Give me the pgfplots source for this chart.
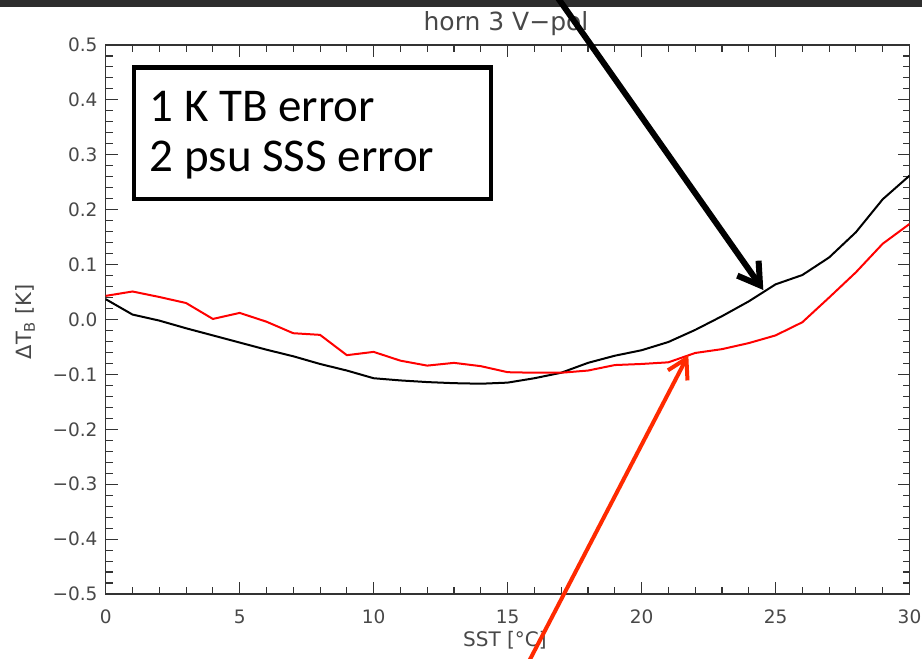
\documentclass[border=0pt]{standalone}
\usepackage{pgfplots}
\pgfplotsset{compat=1.18}
\usepackage{pgfplotstable}
\usepackage{fontspec}
\usetikzlibrary{arrows.meta}

\newfontfamily\idlfont{DejaVu Sans}
\newfontfamily\boxfont{Carlito}

\definecolor{axisgray}{HTML}{333333}
\definecolor{labelgray}{HTML}{484848}
\definecolor{bandgray}{HTML}{2E2E2E}
\definecolor{arrowred}{HTML}{FF2A00}

% Brightness-temperature difference versus sea surface temperature
\pgfplotstableread{
sst dtb
0  0.037
1  0.009
2  -0.002
3  -0.016
4  -0.029
5  -0.042
6  -0.055
7  -0.067
8  -0.081
9  -0.093
10 -0.107
11 -0.111
12 -0.114
13 -0.116
14 -0.117
15 -0.115
16 -0.107
17 -0.097
18 -0.079
19 -0.066
20 -0.056
21 -0.041
22 -0.019
23 0.006
24 0.033
25 0.064
26 0.081
27 0.113
28 0.159
29 0.219
30 0.262
}\blackcurve

\pgfplotstableread{
sst dtb
0  0.043
1  0.051
2  0.041
3  0.030
4  0.001
5  0.012
6  -0.004
7  -0.025
8  -0.028
9  -0.065
10 -0.059
11 -0.075
12 -0.084
13 -0.079
14 -0.085
15 -0.096
16 -0.097
17 -0.097
18 -0.093
19 -0.083
20 -0.081
21 -0.078
22 -0.061
23 -0.054
24 -0.043
25 -0.029
26 -0.005
27 0.040
28 0.086
29 0.138
30 0.174
}\redcurve

\newcommand\ticksize{\idlfont\fontsize{18.5bp}{20bp}\selectfont}

\begin{document}
\begin{tikzpicture}[x=1bp,y=1bp]
\useasboundingbox (0,0) rectangle (922,659);
\begin{scope}
\clip (0,0) rectangle (922,659);
\fill[white] (0,0) rectangle (922,659);
\fill[bandgray] (0,651.5) rectangle (922,659);

\begin{axis}[
  at={(105.7bp,65bp)}, anchor=south west,
  scale only axis, width=803.8bp, height=549bp,
  xmin=0, xmax=30, ymin=-0.5, ymax=0.5,
  xtick={0,5,10,15,20,25,30},
  xticklabels={0,5,10,15,20,25,30},
  ytick={-0.5,-0.4,-0.3,-0.2,-0.1,0,0.1,0.2,0.3,0.4,0.5},
  yticklabels={−0.5,−0.4,−0.3,−0.2,−0.1,0.0,0.1,0.2,0.3,0.4,0.5},
  minor x tick num=4, minor y tick num=4,
  xtick pos=both, ytick pos=both,
  xticklabel pos=lower, yticklabel pos=left,
  tick align=inside,
  major tick length=12bp, minor tick length=7bp,
  axis line style={axisgray, line width=1.2bp},
  every tick/.style={axisgray, line width=1.1bp},
  xticklabel style={font=\ticksize, text=labelgray, inner sep=0pt, yshift=-16bp},
  yticklabel style={font=\ticksize, text=labelgray, inner sep=0pt, xshift=-8bp},
  clip=true,
]
\addplot[black, line width=2bp] table[x=sst, y=dtb] {\blackcurve};
\addplot[red, line width=2bp] table[x=sst, y=dtb] {\redcurve};
\end{axis}

% titles and axis labels
\node[text=labelgray, font=\idlfont\fontsize{25bp}{28bp}\selectfont] at (506,635) {horn 3 V−pol};
\node[text=labelgray, font=\idlfont\fontsize{20bp}{22bp}\selectfont] at (505,19) {SST [°C]};
\node[text=labelgray, font=\idlfont\fontsize{21bp}{22bp}\selectfont, rotate=90] at (25,337) {ΔT\textsubscript{B} [K]};

% annotation box
\draw[black, line width=4.5bp, fill=white] (134,591.5) rectangle (491,460);
\node[anchor=base west, inner sep=0pt, font=\boxfont\fontsize{47bp}{50bp}\selectfont] at (149.5,537.3) {1 K TB error};
\node[anchor=base west, inner sep=0pt, font=\boxfont\fontsize{47bp}{50bp}\selectfont] at (149.5,487.3) {2 psu SSS error};

% pointer arrows
\draw[black, line width=6bp, -{Straight Barb[length=21bp, width=26bp]}] (552.3,669) -- (763.3,369);
\draw[arrowred, line width=4bp, -{Straight Barb[length=19bp, width=22bp]}] (525,-10) -- (688.3,304);
\end{scope}
\end{tikzpicture}
\end{document}
